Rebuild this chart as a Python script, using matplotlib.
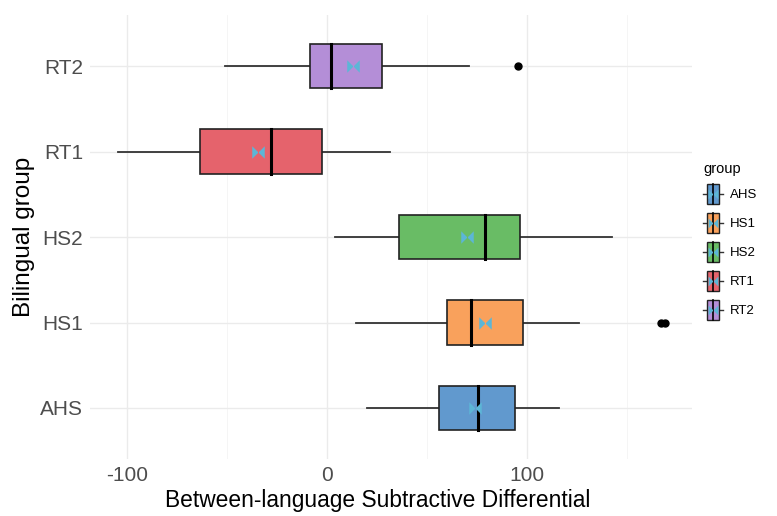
import matplotlib
matplotlib.use("Agg")
import matplotlib.pyplot as plt
from matplotlib.patches import Rectangle
from matplotlib.path import Path
from matplotlib.lines import Line2D
from matplotlib.legend_handler import HandlerBase

plt.rcParams['font.family'] = ['Liberation Sans', 'DejaVu Sans']

groups = ["AHS", "HS1", "HS2", "RT1", "RT2"]
colors = ["#6199CE", "#F9A15C", "#69BC65", "#E5636C", "#B48ED7"]
whisk_lo = [20, 14.5, 4, -105, -51]
q1 = [56, 60, 36, -63.5, -8.5]
medians = [75.5, 72, 79, -28, 2]
q3 = [94, 98, 96.5, -2.5, 27.5]
whisk_hi = [116, 126, 142.5, 31.5, 71]
means = [74, 79, 70, -34.5, 13]
outliers = [[], [167, 169], [], [], [95.5]]
xticks = [-100, 0, 100]
xminor = [-50, 50, 150]

MEAN_COLOR = "#5CB6D6"
bowtie = Path([(-1, 1), (-1, -1), (1, 1), (1, -1), (-1, 1)],
              [Path.MOVETO, Path.LINETO, Path.LINETO, Path.LINETO, Path.CLOSEPOLY])

fig = plt.figure(figsize=(7.77, 5.16), dpi=100)
ax = fig.add_axes([0.116, 0.110, 0.775, 0.861])

for v in xticks:
    ax.axvline(v, color="#EBEBEB", lw=1.0, zorder=0)
for v in xminor:
    ax.axvline(v, color="#F4F4F4", lw=0.6, zorder=0)
for i in range(len(groups)):
    ax.axhline(i, color="#EBEBEB", lw=1.0, zorder=0)

h = 0.26
for i, g in enumerate(groups):
    ax.plot([whisk_lo[i], q1[i]], [i, i], color="#333333", lw=1.3, zorder=2)
    ax.plot([q3[i], whisk_hi[i]], [i, i], color="#333333", lw=1.3, zorder=2)
    ax.add_patch(Rectangle((q1[i], i - h), q3[i] - q1[i], 2 * h,
                           facecolor=colors[i], edgecolor="#222222", lw=1.2,
                           zorder=3))
    ax.plot([medians[i], medians[i]], [i - h, i + h], color="black", lw=2.2, zorder=4)
    ax.plot([means[i]], [i], marker=bowtie, color=MEAN_COLOR, markersize=9,
            markeredgewidth=0, zorder=5)
    for o in outliers[i]:
        ax.plot([o], [i], marker="o", color="black", markersize=5, zorder=4)

ax.set_xlim(-118.7, 182.7)
ax.set_ylim(-0.6, 4.6)
ax.set_xticks(xticks)
ax.set_xticklabels([str(v) for v in xticks])
ax.set_yticks(range(len(groups)))
ax.set_yticklabels(groups)
ax.tick_params(axis='both', length=0, labelsize=15, labelcolor="#4D4D4D", pad=5)
for s in ax.spines.values():
    s.set_visible(False)
ax.set_xlabel("Between-language Subtractive Differential", fontsize=16.4)
ax.xaxis.set_label_coords(0.477, -0.068)
ax.set_ylabel("Bilingual group", fontsize=17.5, labelpad=4)


class BoxKeyHandler(HandlerBase):
    def create_artists(self, legend, orig_handle, xdescent, ydescent,
                       width, height, fontsize, trans):
        c = orig_handle.get_facecolor()
        cx = -xdescent + width / 2
        cy = -ydescent + height / 2
        bw = width * 0.62
        arts = []
        arts.append(Line2D([-xdescent, -xdescent + width], [cy, cy],
                           color="#333333", lw=1.0, transform=trans))
        r = Rectangle((cx - bw / 2, -ydescent), bw, height, facecolor=c,
                      edgecolor="#222222", lw=1.0, transform=trans)
        arts.append(r)
        arts.append(Line2D([cx, cx], [-ydescent, -ydescent + height],
                           color="black", lw=1.2, transform=trans))
        arts.append(Line2D([cx], [cy], marker=bowtie, color=MEAN_COLOR,
                           markersize=7, markeredgewidth=0, transform=trans))
        return arts


handles = [Rectangle((0, 0), 1, 1, facecolor=c) for c in colors]
leg = fig.legend(handles, groups, title="group", loc="upper left",
                 bbox_to_anchor=(0.89, 0.71), frameon=False, fontsize=9.5,
                 title_fontsize=10.5, handlelength=1.5, handleheight=2.0,
                 handletextpad=0.5, labelspacing=0.65, alignment="left",
                 handler_map={Rectangle: BoxKeyHandler()})

fig.savefig("out.png", dpi=100, facecolor="white")
